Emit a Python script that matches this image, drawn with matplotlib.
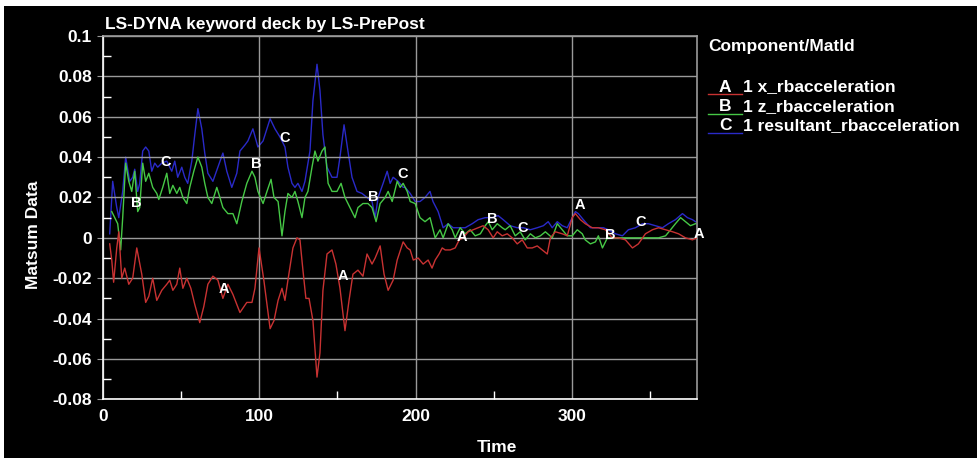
import matplotlib
matplotlib.use("Agg")
import matplotlib.pyplot as plt
from matplotlib.lines import Line2D
from matplotlib.patches import Rectangle
from matplotlib.ticker import MultipleLocator

# ---------------------------------------------------------------------------
# Data
# ---------------------------------------------------------------------------
t_x = [4.3, 5.6, 6.8, 8.8, 10.1, 12.0, 13.9, 16.5, 19.0, 21.6, 24.8, 27.3, 29.3, 31.8, 34.4,
       37.6, 40.8, 42.7, 44.7, 47.2, 49.1, 51.1, 53.6, 56.2, 58.7, 61.9, 64.5, 67.1, 70.3,
       73.5, 76.7, 79.9, 83.1, 87.6, 92.0, 95.3, 97.2, 99.8, 102.9, 106.9, 109.4, 112.0,
       114.5, 116.4, 118.3, 121.5, 124.1, 126.0, 127.9, 129.8, 131.8, 134.3, 136.9, 138.8,
       140.7, 143.3, 146.5, 149.0, 151.6, 154.8, 157.4, 159.9, 163.1, 166.3, 168.9, 172.1,
       174.1, 177.3, 179.8, 182.4, 185.6, 188.2, 192.0, 194.6, 196.5, 198.5, 201.6, 204.8,
       208.0, 210.5, 212.5, 215.0, 217.0, 218.9, 222.1, 225.3, 227.9, 230.4, 233.6, 236.8,
       240.0, 243.2, 246.4, 249.6, 252.2, 255.4, 258.6, 261.8, 265.0, 268.2, 271.4, 274.6,
       277.8, 281.0, 284.2, 286.2, 289.4, 293.8, 297.0, 300.2, 302.2, 305.4, 308.5, 313.0,
       316.9, 321.4, 325.9, 329.7, 334.2, 338.7, 342.5, 347.0, 351.5, 355.4, 359.9, 364.4,
       368.2, 372.6, 377.1, 380.0]
v_x = [-0.003, -0.011, -0.022, -0.005, 0.003, -0.020, -0.015, -0.023, -0.020, -0.005, -0.018,
       -0.032, -0.029, -0.020, -0.031, -0.026, -0.023, -0.021, -0.026, -0.023, -0.015, -0.025,
       -0.020, -0.025, -0.033, -0.042, -0.034, -0.023, -0.019, -0.021, -0.030, -0.023, -0.028,
       -0.037, -0.032, -0.032, -0.025, -0.005, -0.021, -0.045, -0.041, -0.031, -0.025, -0.031,
       -0.021, -0.005, 0.000, -0.001, -0.016, -0.030, -0.030, -0.041, -0.069, -0.057, -0.026,
       -0.008, -0.006, -0.013, -0.025, -0.046, -0.031, -0.018, -0.016, -0.019, -0.008, -0.013,
       -0.010, -0.004, -0.018, -0.026, -0.021, -0.011, -0.002, -0.005, -0.006, -0.011, -0.010,
       -0.013, -0.011, -0.015, -0.011, -0.008, -0.005, -0.006, -0.006, -0.005, -0.001, 0.000,
       0.003, 0.004, 0.005, 0.006, 0.004, 0.000, 0.003, 0.001, 0.002, 0.000, -0.003, -0.001,
       -0.005, -0.005, -0.004, -0.006, -0.008, 0.000, 0.003, 0.002, 0.001, 0.010, 0.012, 0.009,
       0.007, 0.005, 0.005, 0.004, 0.000, 0.000, -0.001, -0.005, -0.003, 0.002, 0.004, 0.005,
       0.004, 0.003, 0.002, 0.000, -0.001, 0.000]

t_z = [5.6, 7.5, 9.4, 11.3, 12.6, 14.5, 16.5, 18.4, 20.3, 22.2, 23.5, 25.4, 27.3, 29.3, 31.8,
       34.4, 35.7, 38.2, 40.8, 42.7, 44.7, 47.2, 49.1, 51.1, 53.6, 55.5, 58.1, 60.7, 63.2,
       65.1, 67.1, 69.6, 72.8, 74.8, 76.7, 79.9, 83.1, 85.6, 88.8, 92.0, 95.3, 97.2, 99.1,
       102.4, 104.9, 107.5, 109.4, 112.0, 114.5, 116.4, 118.3, 120.9, 122.8, 124.7, 127.3,
       129.2, 131.1, 133.7, 135.6, 137.5, 140.1, 142.0, 144.0, 146.5, 149.7, 152.3, 154.8,
       158.0, 161.2, 163.1, 166.3, 169.5, 172.1, 174.7, 177.3, 180.5, 182.4, 185.0, 188.2,
       190.1, 192.0, 194.6, 196.5, 199.7, 202.8, 206.0, 209.2, 212.5, 215.6, 217.6, 220.8,
       223.4, 225.3, 228.5, 231.7, 234.9, 238.1, 241.4, 244.5, 246.5, 249.0, 252.2, 255.4,
       257.3, 260.5, 263.7, 266.9, 270.1, 273.4, 276.6, 279.8, 283.0, 287.4, 290.6, 293.8,
       297.0, 300.2, 303.4, 306.6, 308.5, 311.8, 315.0, 316.9, 319.5, 322.7, 325.9, 329.1,
       332.3, 336.1, 340.6, 345.1, 348.3, 351.5, 355.4, 359.9, 363.1, 366.2, 369.5, 372.6,
       375.8, 379.0]
v_z = [0.013, 0.010, 0.007, -0.006, 0.010, 0.037, 0.028, 0.023, 0.033, 0.013, 0.015, 0.037,
       0.028, 0.032, 0.025, 0.022, 0.019, 0.025, 0.032, 0.022, 0.026, 0.022, 0.025, 0.020,
       0.017, 0.025, 0.033, 0.040, 0.035, 0.027, 0.020, 0.017, 0.025, 0.020, 0.015, 0.012,
       0.012, 0.007, 0.018, 0.027, 0.033, 0.030, 0.023, 0.017, 0.023, 0.029, 0.020, 0.018,
       0.001, 0.013, 0.022, 0.020, 0.023, 0.018, 0.010, 0.020, 0.023, 0.035, 0.043, 0.038,
       0.043, 0.045, 0.027, 0.023, 0.023, 0.027, 0.020, 0.015, 0.010, 0.015, 0.017, 0.017,
       0.015, 0.008, 0.017, 0.020, 0.023, 0.018, 0.028, 0.025, 0.027, 0.023, 0.018, 0.017,
       0.010, 0.008, 0.010, 0.000, 0.004, 0.000, 0.007, 0.004, 0.000, 0.005, 0.002, 0.004,
       0.001, 0.002, 0.006, 0.008, 0.004, 0.007, 0.005, 0.004, 0.006, 0.001, 0.003, -0.001,
       0.002, 0.000, 0.001, 0.003, 0.000, 0.007, 0.004, 0.001, 0.001, 0.004, 0.002, -0.001,
       -0.003, -0.002, 0.001, -0.005, 0.000, 0.000, 0.000, 0.000, 0.000, 0.000, 0.000, 0.000,
       0.000, 0.000, 0.001, 0.004, 0.007, 0.010, 0.008, 0.006, 0.007]

t_r = [4.3, 6.2, 8.8, 10.1, 12.6, 14.5, 17.1, 19.0, 20.3, 22.2, 23.5, 25.4, 27.3, 29.3, 31.2,
       33.1, 35.0, 37.6, 40.8, 44.0, 45.9, 47.8, 50.4, 52.3, 54.2, 56.8, 58.7, 60.7, 63.2,
       65.1, 67.1, 70.3, 73.5, 76.7, 79.2, 82.4, 85.6, 87.6, 90.8, 92.7, 95.9, 99.1, 102.4,
       106.9, 110.0, 113.2, 116.4, 118.3, 120.9, 122.8, 124.7, 127.3, 129.2, 132.4, 134.3,
       136.9, 138.8, 140.7, 143.3, 146.5, 149.7, 151.6, 154.2, 156.7, 159.3, 162.5, 165.7,
       168.9, 172.1, 174.1, 176.0, 179.2, 181.8, 183.7, 185.6, 188.8, 192.0, 193.3, 196.5,
       199.7, 202.8, 206.0, 209.2, 211.1, 214.4, 217.6, 220.8, 224.0, 227.2, 231.7, 236.2,
       240.0, 244.5, 249.0, 252.8, 256.0, 260.5, 265.0, 268.9, 273.4, 277.8, 281.7, 284.8,
       287.4, 290.6, 293.8, 297.0, 300.2, 302.2, 304.1, 307.3, 311.8, 316.3, 320.1, 323.3,
       327.8, 332.3, 336.1, 340.6, 345.1, 348.9, 353.4, 357.9, 361.7, 366.2, 370.7, 373.9,
       377.1, 379.0]
v_r = [0.002, 0.028, 0.015, 0.010, 0.023, 0.040, 0.028, 0.030, 0.034, 0.023, 0.027, 0.043,
       0.045, 0.043, 0.033, 0.037, 0.035, 0.037, 0.038, 0.033, 0.038, 0.030, 0.035, 0.030,
       0.027, 0.038, 0.051, 0.064, 0.054, 0.042, 0.032, 0.028, 0.035, 0.042, 0.033, 0.025,
       0.032, 0.043, 0.046, 0.048, 0.054, 0.045, 0.048, 0.059, 0.054, 0.050, 0.045, 0.035,
       0.027, 0.025, 0.027, 0.023, 0.028, 0.043, 0.068, 0.086, 0.073, 0.051, 0.035, 0.030,
       0.030, 0.040, 0.056, 0.043, 0.030, 0.023, 0.022, 0.020, 0.018, 0.010, 0.020, 0.027,
       0.033, 0.027, 0.030, 0.028, 0.025, 0.025, 0.022, 0.018, 0.018, 0.020, 0.023, 0.018,
       0.013, 0.005, 0.007, 0.005, 0.005, 0.005, 0.007, 0.009, 0.010, 0.010, 0.011, 0.009,
       0.006, 0.005, 0.005, 0.004, 0.005, 0.006, 0.008, 0.005, 0.008, 0.006, 0.005, 0.010,
       0.013, 0.012, 0.009, 0.005, 0.005, 0.005, 0.004, 0.002, 0.001, 0.004, 0.005, 0.007,
       0.007, 0.006, 0.005, 0.007, 0.009, 0.012, 0.010, 0.009, 0.008]

# curve labels (LS-PrePost puts the curve letter every ~76 time units)
lab_a_t = [77.3, 153.5, 229.7, 305.3, 381.5]
lab_a_v = [-0.0255, -0.0191, 0.0006, 0.0164, 0.0021]
lab_b_t = [21.0, 97.8, 172.8, 249.0, 324.6]
lab_b_v = [0.0174, 0.0367, 0.0204, 0.0095, 0.0016]
lab_c_t = [40.2, 116.4, 192.0, 268.3, 343.8]
lab_c_v = [0.0377, 0.0495, 0.0318, 0.0051, 0.0080]

names = ["1 x_rbacceleration", "1 z_rbacceleration", "1 resultant_rbacceleration"]
letters = ["A", "B", "C"]
colors = ["#c83232", "#46c846", "#2a2ac8"]

# ---------------------------------------------------------------------------
# Plot
# ---------------------------------------------------------------------------
plt.rcParams["font.family"] = ["Liberation Sans", "DejaVu Sans"]
plt.rcParams["font.weight"] = "bold"
FS = 12.5

W, H = 977, 458
fig = plt.figure(figsize=(W / 100, H / 100), dpi=100, facecolor="black")

# thin white frame left over from the screenshot (top and left edges)
fig.add_artist(Rectangle((0, 1 - 6 / H), 1, 6 / H, transform=fig.transFigure,
                         facecolor="white", edgecolor="none"))
fig.add_artist(Rectangle((0, 0), 4 / W, 1, transform=fig.transFigure,
                         facecolor="white", edgecolor="none"))

ax = fig.add_axes([103 / W, 1 - 399.3 / H, (697 - 103) / W, (399.3 - 36) / H])
ax.set_facecolor("black")

ax.plot(t_x, v_x, color=colors[0], lw=1.0, zorder=3)
ax.plot(t_z, v_z, color=colors[1], lw=1.0, zorder=2)
ax.plot(t_r, v_r, color=colors[2], lw=1.0, zorder=1)

for lt, lv, letter in [(lab_a_t, lab_a_v, "A"), (lab_b_t, lab_b_v, "B"), (lab_c_t, lab_c_v, "C")]:
    for tt, vv in zip(lt, lv):
        ax.text(tt, vv, letter, color="white", fontsize=10.5, fontweight="bold",
                ha="center", va="center", zorder=5, clip_on=False)

ax.set_xlim(0, 380)
ax.set_ylim(-0.08, 0.1)
ax.set_xticks([0, 100, 200, 300])
ax.set_yticks([-0.08, -0.06, -0.04, -0.02, 0, 0.02, 0.04, 0.06, 0.08, 0.1])
ax.set_yticklabels(["-0.08", "-0.06", "-0.04", "-0.02", "0", "0.02", "0.04", "0.06", "0.08", "0.1"])
ax.xaxis.set_minor_locator(MultipleLocator(50))
ax.yaxis.set_minor_locator(MultipleLocator(0.01))

ax.grid(True, which="major", color="#9a9a9a", lw=1.0)
ax.tick_params(which="major", axis="y", direction="out", length=4, color="#9a9a9a",
               labelcolor="white", labelsize=FS, pad=4)
ax.tick_params(which="major", axis="x", length=0, labelcolor="white", labelsize=FS, pad=7)
ax.tick_params(which="minor", direction="in", length=6, color="white", width=1)
for lbl in ax.get_xticklabels() + ax.get_yticklabels():
    lbl.set_fontweight("bold")

for side in ["left", "bottom"]:
    ax.spines[side].set_color("white")
    ax.spines[side].set_linewidth(1.2)
for side in ["top", "right"]:
    ax.spines[side].set_color("#9a9a9a")
    ax.spines[side].set_linewidth(1.2)

fig.text(105 / W, 1 - 25 / H, "LS-DYNA keyword deck by LS-PrePost", color="white",
         fontsize=FS, fontweight="bold", ha="left", va="center")
fig.text(497 / W, 1 - 447 / H, "Time", color="white", fontsize=FS, fontweight="bold",
         ha="center", va="center")
fig.text(33 / W, 1 - 235 / H, "Matsum Data", color="white", fontsize=FS, fontweight="bold",
         ha="center", va="center", rotation=90)

# legend drawn by hand, LS-PrePost style
fig.text(708 / W, 1 - 47 / H, "Component/MatId", color="white", fontsize=FS,
         fontweight="bold", ha="left", va="center")
for i, (letter, name, c) in enumerate(zip(letters, names, colors)):
    y = 87 + 19.5 * i
    fig.add_artist(Line2D([708 / W, 742 / W], [1 - (y + 7) / H] * 2, color=c, lw=1.0))
    fig.text(725 / W, 1 - y / H, letter, color="white", fontsize=FS, fontweight="bold",
             ha="center", va="center")
    fig.text(743 / W, 1 - y / H, name, color="white", fontsize=FS, fontweight="bold",
             ha="left", va="center")

fig.savefig("out.png", dpi=100, facecolor="black")
